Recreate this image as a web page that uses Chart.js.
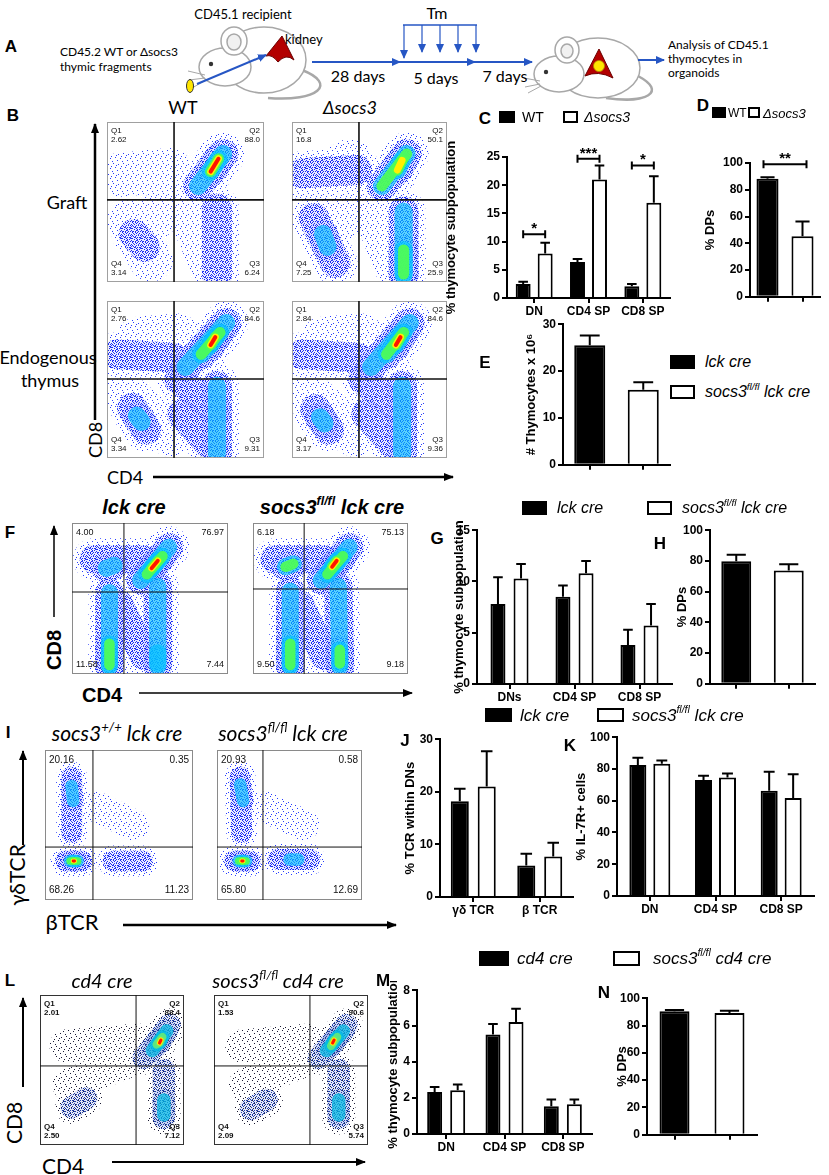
<!DOCTYPE html>
<html>
<head>
<meta charset="utf-8">
<title>socs3 thymocyte figure</title>
<script src="https://cdn.jsdelivr.net/npm/chart.js@4.4.1/dist/chart.umd.min.js"></script>
<style>
  body { margin: 0; background: #fff; }
  #fig { position: relative; width: 829px; height: 1175px; overflow: hidden; background: #fff;
         font-family: 'Liberation Sans', Arial, sans-serif; color: #000; }
  #fig canvas { position: absolute; }
  #art { position: absolute; left: 0; top: 0; pointer-events: none; }
  .t { position: absolute; white-space: nowrap; line-height: 1; transform: translate(-50%, -50%); }
  .l { position: absolute; white-space: nowrap; line-height: 1; transform: translateY(-50%); }
  .rot { transform: translate(-50%, -50%) rotate(-90deg); }
  .p { font-weight: bold; font-size: 17px; }
  .cal { font-family: Lato, 'Open Sans', sans-serif; }
  .i { font-style: italic; }
  .b { font-weight: bold; }
  .box { position: absolute; box-sizing: border-box; border: 2px solid #000; background: #fff; }
  .box.k { background: #000; }
  sup { font-size: 0.62em; line-height: 0; position: relative; top: -0.1em; }
</style>
</head>
<body>
<div id="fig">

<!-- panel A schematic and axis arrows -->
<svg id="art" width="829" height="1175" viewBox="0 0 829 1175">
  <defs>
    <marker id="ab" markerWidth="9" markerHeight="8" refX="8" refY="4" orient="auto" markerUnits="userSpaceOnUse">
      <path d="M0,0 L9,4 L0,8 z" fill="#2656c4"/>
    </marker>
    <marker id="ak" markerWidth="10" markerHeight="8" refX="9" refY="4" orient="auto" markerUnits="userSpaceOnUse">
      <path d="M0,0 L10,4 L0,8 z" fill="#000"/>
    </marker>
  </defs>
  <!-- mouse 1 -->
  <g stroke="#a8a8a8" stroke-width="1.5" fill="#fff">
    <path d="M302,70 C338,84 318,102 268,98" fill="none" stroke-width="2.5"/>
    <ellipse cx="264" cy="60" rx="42" ry="33"/>
    <ellipse cx="225" cy="67" rx="26" ry="19"/>
    <ellipse cx="234" cy="41" rx="13" ry="14"/>
    <ellipse cx="234" cy="42" rx="7" ry="8" fill="#f1f1f1"/>
    <path d="M205,75 L188,71 M205,78 L189,80 M206,80 L192,88" stroke-width="1"/>
  </g>
  <circle cx="211" cy="64" r="2.2" fill="#333"/>
  <path d="M266,56 L282,36 L294,60 Q286,53 278,62 Q272,54 266,56 Z" fill="#b30000" stroke="#6a0000"/>
  <ellipse cx="190" cy="86" rx="3.5" ry="6.5" fill="#ffe600" stroke="#333"/>
  <!-- mouse 2 -->
  <g stroke="#a8a8a8" stroke-width="1.5" fill="#fff">
    <path d="M638,76 C668,92 646,104 606,98" fill="none" stroke-width="2.5"/>
    <ellipse cx="598" cy="68" rx="42" ry="30"/>
    <ellipse cx="559" cy="74" rx="25" ry="18"/>
    <ellipse cx="567" cy="50" rx="12" ry="13"/>
    <ellipse cx="567" cy="51" rx="6" ry="7" fill="#f1f1f1"/>
    <path d="M540,81 L524,78 M540,84 L525,87 M541,86 L528,93" stroke-width="1"/>
  </g>
  <circle cx="546" cy="72" r="2.2" fill="#333"/>
  <path d="M585,76 L599,49 L613,78 Q598,70 585,76 Z" fill="#b30000" stroke="#6a0000"/>
  <circle cx="599" cy="66" r="5.5" fill="#ffe600" stroke="#b08a00" stroke-width="0.8"/>
  <g font-family="Lato, 'Open Sans', sans-serif" font-size="12" fill="#000">
    <text x="243" y="19" text-anchor="middle" font-size="13">CD45.1 recipient</text>
    <text x="60" y="56">CD45.2 WT or Δsocs3</text>
    <text x="60" y="71">thymic fragments</text>
    <text x="285" y="44" font-size="13">kidney</text>
    <text x="668" y="49">Analysis of CD45.1</text>
    <text x="668" y="63">thymocytes in</text>
    <text x="668" y="77">organoids</text>
    <text x="437" y="19" text-anchor="middle" font-size="16">Tm</text>
    <text x="358" y="82" text-anchor="middle" font-size="16">28 days</text>
    <text x="436" y="84" text-anchor="middle" font-size="16">5 days</text>
    <text x="505" y="82" text-anchor="middle" font-size="16">7 days</text>
  </g>
  <!-- blue arrows of panel A -->
  <g stroke="#2656c4" stroke-width="2" fill="none">
    <line x1="197" y1="84" x2="266" y2="55" marker-end="url(#ab)"/>
    <line x1="312" y1="62" x2="400" y2="62" marker-end="url(#ab)"/>
    <line x1="400" y1="62" x2="475" y2="62" marker-end="url(#ab)"/>
    <line x1="475" y1="62" x2="532" y2="62" marker-end="url(#ab)"/>
    <line x1="638" y1="60" x2="664" y2="60" marker-end="url(#ab)"/>
    <line x1="403" y1="25" x2="477" y2="25" stroke-width="1.5"/>
    <line x1="404" y1="25" x2="404" y2="58" stroke-width="1.2" marker-end="url(#ab)"/>
    <line x1="422" y1="25" x2="422" y2="52" stroke-width="1.2" marker-end="url(#ab)"/>
    <line x1="440" y1="25" x2="440" y2="52" stroke-width="1.2" marker-end="url(#ab)"/>
    <line x1="458" y1="25" x2="458" y2="52" stroke-width="1.2" marker-end="url(#ab)"/>
    <line x1="476" y1="25" x2="476" y2="52" stroke-width="1.2" marker-end="url(#ab)"/>
  </g>
  <!-- flow axis arrows -->
  <g stroke="#000" fill="none">
    <line x1="95" y1="420" x2="95" y2="124" stroke-width="2.5" marker-end="url(#ak)"/>
    <line x1="153" y1="477" x2="453" y2="477" stroke-width="2.5" marker-end="url(#ak)"/>
    <line x1="54" y1="617" x2="54" y2="526" stroke-width="1.5" marker-end="url(#ak)"/>
    <line x1="139" y1="693" x2="412" y2="693" stroke-width="1.5" marker-end="url(#ak)"/>
    <line x1="23" y1="845" x2="23" y2="751" stroke-width="2" marker-end="url(#ak)"/>
    <line x1="123" y1="925" x2="396" y2="925" stroke-width="2.5" marker-end="url(#ak)"/>
    <line x1="23" y1="1087" x2="23" y2="998" stroke-width="2" marker-end="url(#ak)"/>
    <line x1="112" y1="1162" x2="365" y2="1162" stroke-width="2" marker-end="url(#ak)"/>
  </g>
</svg>

<canvas id="bWtGraft"></canvas><canvas id="bKoGraft"></canvas>
<canvas id="bWtEndo"></canvas><canvas id="bKoEndo"></canvas>
<canvas id="fLck"></canvas><canvas id="fKo"></canvas>
<canvas id="iWt"></canvas><canvas id="iKo"></canvas>
<canvas id="lCd4"></canvas><canvas id="lKo"></canvas>
<canvas id="cChart"></canvas><canvas id="dChart"></canvas><canvas id="eChart"></canvas>
<canvas id="gChart"></canvas><canvas id="hChart"></canvas>
<canvas id="jChart"></canvas><canvas id="kChart"></canvas>
<canvas id="mChart"></canvas><canvas id="nChart"></canvas>

<!-- panel letters -->
<div class="t p" style="left:11px;top:46px">A</div>
<div class="t p" style="left:13px;top:115px">B</div>
<div class="t p" style="left:485px;top:118px">C</div>
<div class="t p" style="left:703px;top:105px">D</div>
<div class="t p" style="left:485px;top:362px">E</div>
<div class="t p" style="left:10px;top:532px">F</div>
<div class="t p" style="left:437px;top:538px">G</div>
<div class="t p" style="left:660px;top:543px">H</div>
<div class="t p" style="left:8px;top:732px">I</div>
<div class="t p" style="left:405px;top:740px">J</div>
<div class="t p" style="left:570px;top:745px">K</div>
<div class="t p" style="left:10px;top:980px">L</div>
<div class="t p" style="left:383px;top:980px">M</div>
<div class="t p" style="left:604px;top:992px">N</div>

<!-- B labels -->
<div class="t cal" style="left:183px;top:107px;font-size:18px">WT</div>
<div class="t cal i" style="left:350px;top:107px;font-size:18px">Δsocs3</div>
<div class="t cal" style="left:67px;top:202px;font-size:18px">Graft</div>
<div class="t cal" style="left:48px;top:357px;font-size:18px">Endogenous</div>
<div class="t cal" style="left:50px;top:380px;font-size:18px">thymus</div>
<div class="t cal rot" style="left:95px;top:440px;font-size:18px">CD8</div>
<div class="t cal" style="left:125px;top:477px;font-size:18px">CD4</div>

<!-- C / D legends -->
<div class="box k" style="left:499px;top:111px;width:16px;height:12px"></div>
<div class="l" style="left:522px;top:117px;font-size:14px">WT</div>
<div class="box" style="left:563px;top:111px;width:15px;height:12px"></div>
<div class="l i" style="left:584px;top:117px;font-size:14px">Δsocs3</div>
<div class="box k" style="left:712px;top:107px;width:14px;height:11px"></div>
<div class="l" style="left:728px;top:113px;font-size:12px">WT</div>
<div class="box" style="left:748px;top:107px;width:12px;height:11px"></div>
<div class="l i" style="left:763px;top:113px;font-size:13px">Δsocs3</div>

<!-- E legend -->
<div class="box k" style="left:670px;top:355px;width:25px;height:14px"></div>
<div class="l i" style="left:705px;top:362px;font-size:16px">lck cre</div>
<div class="box" style="left:670px;top:385px;width:25px;height:14px"></div>
<div class="l i" style="left:705px;top:392px;font-size:16px">socs3<sup>fl/fl</sup> lck cre</div>

<!-- F headers and axes -->
<div class="t b i" style="left:134px;top:507px;font-size:20px">lck cre</div>
<div class="t b i" style="left:332px;top:507px;font-size:20px">socs3<sup>fl/fl</sup> lck cre</div>
<div class="t b rot" style="left:54px;top:650px;font-size:20px">CD8</div>
<div class="t b" style="left:102px;top:695px;font-size:20px">CD4</div>

<!-- F-H legend -->
<div class="box k" style="left:522px;top:501px;width:25px;height:14px"></div>
<div class="l i" style="left:557px;top:508px;font-size:16px">lck cre</div>
<div class="box" style="left:647px;top:501px;width:25px;height:14px"></div>
<div class="l i" style="left:682px;top:508px;font-size:16px">socs3<sup>fl/fl</sup> lck cre</div>

<!-- I headers and axes -->
<div class="t cal i" style="left:117px;top:732px;font-size:21px">socs3<sup>+/+</sup> lck cre</div>
<div class="t cal i" style="left:283px;top:732px;font-size:21px">socs3<sup>fl/fl</sup> lck cre</div>
<div class="t cal rot" style="left:16px;top:875px;font-size:21px">γδTCR</div>
<div class="t cal" style="left:72px;top:922px;font-size:22px">βTCR</div>

<!-- I-K legend -->
<div class="box k" style="left:485px;top:708px;width:27px;height:14px"></div>
<div class="l i" style="left:520px;top:715px;font-size:17px">lck cre</div>
<div class="box" style="left:597px;top:708px;width:27px;height:14px"></div>
<div class="l i" style="left:632px;top:715px;font-size:17px">socs3<sup>fl/fl</sup> lck cre</div>

<!-- L headers and axes -->
<div class="t cal i" style="left:102px;top:980px;font-size:20px">cd4 cre</div>
<div class="t cal i" style="left:278px;top:980px;font-size:20px">socs3<sup>fl/fl</sup> cd4 cre</div>
<div class="t cal rot" style="left:13px;top:1123px;font-size:21px">CD8</div>
<div class="t cal" style="left:63px;top:1165px;font-size:21px">CD4</div>

<!-- L-N legend -->
<div class="box k" style="left:479px;top:951px;width:30px;height:15px"></div>
<div class="l i" style="left:517px;top:958px;font-size:17px">cd4 cre</div>
<div class="box" style="left:613px;top:951px;width:27px;height:15px"></div>
<div class="l i" style="left:653px;top:958px;font-size:17px">socs3<sup>fl/fl</sup> cd4 cre</div>

</div>

<script>
// ---- C: graft subpopulations
const cCats = ['DN', 'CD4 SP', 'CD8 SP'];
const cWt = [2.5, 6.4, 2.1];
const cWtErr = [0.4, 0.5, 0.4];
const cKo = [7.9, 21.0, 16.9];
const cKoErr = [1.9, 2.5, 4.7];
const cSigAt = [11.3, 24.7, 23.5];
const cSigMarks = ['*', '***', '*'];

// ---- D: graft % DPs (WT, Δsocs3)
const dVals = [88.2, 45.2];
const dErr = [1.2, 11.1];
const dSigAt = [99];
const dSigMarks = ['**'];

// ---- E: thymocyte numbers x 10^6 (lck cre, socs3 fl/fl lck cre)
const eVals = [25.5, 16.0];
const eErr = [2.1, 1.6];

// ---- G: subpopulations, lck cre vs socs3 fl/fl lck cre
const gCats = ['DNs', 'CD4 SP', 'CD8 SP'];
const gLck = [7.8, 8.5, 3.8];
const gLckErr = [2.6, 1.1, 1.5];
const gKo = [10.3, 10.8, 5.7];
const gKoErr = [1.4, 1.2, 2.1];

// ---- H: % DPs
const hVals = [79.8, 73.8];
const hErr = [4.2, 4.1];

// ---- J: % TCR within DNs
const jCats = ['γδ TCR', 'β TCR'];
const jLck = [18.2, 6.0];
const jLckErr = [2.4, 2.2];
const jKo = [21.0, 7.7];
const jKoErr = [6.7, 2.6];

// ---- K: % IL-7R+ cells
const kCats = ['DN', 'CD4 SP', 'CD8 SP'];
const kLck = [82.5, 73.1, 66.3];
const kLckErr = [4.6, 2.7, 12.0];
const kKo = [83.3, 74.6, 61.7];
const kKoErr = [2.1, 2.5, 15.0];

// ---- M: cd4 cre subpopulations
const mCats = ['DN', 'CD4 SP', 'CD8 SP'];
const mCd4 = [2.34, 5.54, 1.55];
const mCd4Err = [0.27, 0.58, 0.37];
const mKo = [2.43, 6.23, 1.66];
const mKoErr = [0.33, 0.74, 0.26];

// ---- N: % DPs
const nVals = [90.4, 89.2];
const nErr = [0.9, 1.6];

// ---- flow plots: quadrant percentages [top-left, top-right, bottom-left, bottom-right]
const qNames = ['Q1', 'Q2', 'Q4', 'Q3'];
const bWtGraftQ = ['2.62', '88.0', '3.14', '6.24'];
const bKoGraftQ = ['16.8', '50.1', '7.25', '25.9'];
const bWtEndoQ = ['2.76', '84.6', '3.34', '9.31'];
const bKoEndoQ = ['2.84', '84.6', '3.17', '9.36'];
const fLckQ = ['4.00', '76.97', '11.58', '7.44'];
const fKoQ = ['6.18', '75.13', '9.50', '9.18'];
const iWtQ = ['20.16', '0.35', '68.26', '11.23'];
const iKoQ = ['20.93', '0.58', '65.80', '12.69'];
const lCd4Q = ['2.01', '88.4', '2.50', '7.12'];
const lKoQ = ['1.53', '90.6', '2.09', '5.74'];

// gates [x, y] on a 0-100 display scale
const bGraftGateWt = [42.7, 51.3];
const bGraftGateKo = [43.2, 51.3];
const bEndoGateWt = [42.7, 50.3];
const bEndoGateKo = [43.2, 50.3];
const fGateLck = [33.3, 54.3];
const fGateKo = [33.0, 56.3];
const iGateWt = [32.4, 35.3];
const iGateKo = [31.7, 35.3];
const lGateCd4 = [66.7, 52.7];
const lGateKo = [62.3, 52.7];

// cell populations: [x1, y1, x2, y2, peak density 0-5]
const bWtGraftPops = [
  [8, 67, 40, 70, 0], [30, 40, 52, 58, 0], [14, 38, 28, 14, 0], [55, 38, 68, 8, 0],
  [17, 30, 24, 22, 1], [70, 46, 70, 4, 1], [58, 60, 74, 80, 2], [66, 69, 71, 77, 5]
];
const bKoGraftPops = [
  [6, 68, 42, 70, 1], [12, 62, 38, 76, 0], [30, 38, 55, 55, 0], [14, 40, 28, 12, 1],
  [20, 30, 23, 22, 2], [55, 40, 68, 8, 0], [72, 44, 72, 4, 2], [72, 20, 72, 5, 3],
  [58, 60, 74, 80, 3], [68, 70, 71, 76, 4]
];
const bWtEndoPops = [
  [6, 66, 42, 64, 1], [20, 76, 45, 78, 0], [46, 50, 70, 30, 1], [48, 28, 68, 6, 1],
  [12, 40, 40, 15, 0], [16, 32, 25, 18, 1], [19, 27, 22, 23, 2], [70, 46, 70, 3, 2],
  [50, 58, 76, 86, 2], [60, 66, 72, 80, 3], [66, 72, 69, 77, 5]
];
const bKoEndoPops = [
  [6, 66, 42, 64, 1], [20, 76, 45, 78, 0], [46, 50, 70, 30, 1], [48, 28, 68, 6, 1],
  [12, 40, 40, 15, 0], [15, 31, 24, 18, 1], [18, 26, 21, 22, 2], [71, 46, 71, 3, 2],
  [51, 58, 76, 86, 2], [61, 66, 72, 80, 3], [67, 72, 70, 77, 5]
];
const fLckPops = [
  [14, 76, 46, 76, 1], [22, 70, 27, 72, 2], [30, 46, 46, 12, 1], [24, 54, 24, 5, 2],
  [24, 20, 24, 6, 3], [55, 58, 55, 5, 2], [55, 14, 55, 7, 2], [44, 62, 62, 84, 2],
  [48, 66, 58, 78, 3], [51, 70, 55, 75, 5]
];
const fKoPops = [
  [14, 76, 46, 76, 1], [21, 71, 26, 73, 3], [30, 46, 46, 12, 1], [24, 55, 24, 5, 2],
  [24, 20, 24, 6, 3], [55, 58, 56, 5, 2], [56, 16, 56, 7, 3], [44, 62, 62, 84, 2],
  [48, 66, 58, 78, 3], [51, 71, 54, 75, 5]
];
const iWtPops = [
  [18, 82, 18, 45, 1], [18, 76, 19, 66, 2], [35, 62, 60, 50, 0], [14, 26, 25, 26, 1],
  [17, 26, 22, 26, 3], [19, 26, 20, 26, 5], [46, 26, 66, 26, 1]
];
const iKoPops = [
  [16, 82, 17, 45, 1], [16, 77, 18, 66, 2], [33, 62, 60, 50, 0], [12, 26, 23, 26, 1],
  [15, 26, 20, 26, 3], [17, 26, 18, 26, 5], [42, 27, 64, 27, 1], [50, 27, 56, 27, 2]
];
const lCd4Pops = [
  [18, 66, 68, 70, 0], [20, 40, 62, 56, 0], [22, 25, 32, 31, 1], [72, 58, 90, 80, 1],
  [78, 63, 88, 76, 2], [81, 67, 85, 72, 3], [83, 68, 84, 70, 5], [86, 50, 86, 18, 1],
  [86, 30, 86, 20, 2]
];
const lKoPops = [
  [18, 66, 62, 70, 0], [20, 40, 58, 56, 0], [24, 24, 34, 30, 1], [68, 58, 86, 80, 1],
  [73, 63, 84, 76, 2], [76, 66, 80, 72, 3], [77, 68, 78, 70, 5], [81, 50, 81, 18, 1],
  [81, 30, 81, 20, 2]
];

// dotted textures so the low-density layers look like scattered events
const sparseDots = [[1, 2], [6, 1], [3, 6], [8, 5], [0, 8], [5, 9], [9, 3], [4, 4]];
const denseDots = [[0, 0], [2, 1], [5, 0], [7, 2], [9, 1], [1, 3], [4, 2], [6, 4], [8, 4], [3, 5],
  [0, 5], [5, 6], [7, 7], [9, 6], [2, 7], [4, 8], [1, 9], [6, 9], [8, 9], [3, 3],
  [0, 7], [9, 8], [5, 3], [7, 5], [2, 5], [4, 6], [8, 0], [3, 9]];

function speckle(color, dots, bg) {
  const c = document.createElement('canvas');
  c.width = 10; c.height = 10;
  const x = c.getContext('2d');
  if (bg) { x.fillStyle = bg; x.fillRect(0, 0, 10, 10); }
  x.fillStyle = color;
  dots.forEach(p => x.fillRect(p[0], p[1], 1, 1));
  return x.createPattern(c, 'repeat');
}

// density colours, low to high
const jet = [speckle('rgb(40,60,255)', sparseDots),
             speckle('rgb(25,40,240)', denseDots, 'rgba(90,110,255,0.12)'),
             'rgba(0,195,255,0.62)', 'rgba(80,255,80,0.9)', '#fff000', '#ff1400'];
const darkJet = [speckle('rgb(25,25,50)', sparseDots),
                 speckle('rgb(30,60,170)', denseDots, 'rgba(60,90,200,0.14)'),
                 'rgba(0,190,230,0.7)', 'rgba(100,235,120,0.9)', '#ffe800', '#ff1400'];
const layerW = [44, 30, 18, 11, 7, 4];

Chart.defaults.font.family = "'Liberation Sans', Arial, sans-serif";
Chart.defaults.color = '#000';

function place(cv, x, y, w, h) {
  cv.width = w; cv.height = h;
  cv.style.left = x + 'px'; cv.style.top = y + 'px';
  cv.style.width = w + 'px'; cv.style.height = h + 'px';
}

// frame, gates and quadrant numbers of a flow plot
const flowDecor = {
  id: 'flowDecor',
  afterDraw(chart, args, o) {
    const { ctx, chartArea: a, scales } = chart;
    const gx = scales.x.getPixelForValue(o.gate[0]);
    const gy = scales.y.getPixelForValue(o.gate[1]);
    ctx.save();
    ctx.strokeStyle = o.frame; ctx.lineWidth = 1;
    ctx.strokeRect(a.left + 0.5, a.top + 0.5, a.width - 1, a.height - 1);
    ctx.strokeStyle = '#111'; ctx.lineWidth = o.gateW;
    ctx.beginPath();
    ctx.moveTo(gx, a.top); ctx.lineTo(gx, a.bottom);
    ctx.moveTo(a.left, gy); ctx.lineTo(a.right, gy);
    ctx.stroke();
    ctx.fillStyle = '#111'; ctx.font = o.font; ctx.textBaseline = 'top';
    const lh = o.size + 1;
    const pos = [[a.left + 4, a.top + 5, 'left', 1], [a.right - 4, a.top + 5, 'right', 1],
                 [a.left + 4, a.bottom - 4, 'left', 0], [a.right - 4, a.bottom - 4, 'right', 0]];
    o.quad.forEach((txt, i) => {
      const [x, y, al, isTop] = pos[i];
      const lines = o.prefix ? [o.prefix[i], txt] : [txt];
      const y0 = isTop ? y : y - lh * lines.length;
      ctx.textAlign = al;
      lines.forEach((s, k) => ctx.fillText(s, x, y0 + k * lh));
    });
    ctx.restore();
  }
};

function flowPlot(id, frame, pops, gate, quad, opt) {
  const cv = document.getElementById(id);
  place(cv, frame[0], frame[1], frame[2], frame[3]);
  const sets = [];
  for (let lv = 0; lv <= 5; lv++) {
    pops.forEach(p => {
      if (p[4] < lv) return;
      sets.push({
        data: [{ x: p[0], y: p[1] }, { x: p[2], y: p[3] }],
        showLine: true, borderColor: opt.pal[lv], borderWidth: layerW[lv] * opt.k,
        borderCapStyle: 'round', borderJoinStyle: 'round', pointRadius: 0,
        clip: 0, order: 10 - lv
      });
    });
  }
  return new Chart(cv, {
    type: 'scatter',
    data: { datasets: sets },
    options: {
      responsive: false, animation: false, events: [],
      layout: { padding: 0 },
      plugins: {
        legend: { display: false }, tooltip: { enabled: false },
        flowDecor: { gate, quad, prefix: opt.prefix, frame: opt.frame, gateW: opt.gateW, font: opt.font, size: opt.size }
      },
      scales: {
        x: { type: 'linear', min: 0, max: 100, display: false },
        y: { type: 'linear', min: 0, max: 100, display: false }
      }
    },
    plugins: [flowDecor]
  });
}

// upward error bars (Prism style, mean + SEM)
const errorBars = {
  id: 'errorBars',
  afterDatasetsDraw(chart) {
    const ctx = chart.ctx;
    const ys = chart.scales.y;
    chart.data.datasets.forEach((ds, i) => {
      if (!ds.errors) return;
      chart.getDatasetMeta(i).data.forEach((bar, j) => {
        const e = ds.errors[j];
        if (e == null || ds.data[j] == null) return;
        const yTop = ys.getPixelForValue(ds.data[j] + e);
        const half = bar.width * 0.32;
        ctx.save();
        ctx.strokeStyle = '#000'; ctx.lineWidth = 2;
        ctx.beginPath();
        ctx.moveTo(bar.x, bar.y); ctx.lineTo(bar.x, yTop);
        ctx.moveTo(bar.x - half, yTop); ctx.lineTo(bar.x + half, yTop);
        ctx.stroke();
        ctx.restore();
      });
    });
  }
};

// significance brackets with stars
const sigBrackets = {
  id: 'sigBrackets',
  afterDatasetsDraw(chart, args, o) {
    const ctx = chart.ctx;
    const ys = chart.scales.y;
    const m0 = chart.getDatasetMeta(0);
    const m1 = chart.data.datasets.length > 1 ? chart.getDatasetMeta(1) : null;
    o.at.forEach((v, i) => {
      const xa = m1 ? m0.data[i].x : m0.data[0].x - 4;
      const xb = m1 ? m1.data[i].x : m0.data[1].x + 4;
      const py = ys.getPixelForValue(v);
      ctx.save();
      ctx.strokeStyle = '#000'; ctx.lineWidth = 2;
      ctx.beginPath();
      ctx.moveTo(xa, py); ctx.lineTo(xb, py);
      ctx.moveTo(xa, py - 4); ctx.lineTo(xa, py + 4);
      ctx.moveTo(xb, py - 4); ctx.lineTo(xb, py + 4);
      ctx.stroke();
      ctx.fillStyle = '#000';
      ctx.font = "bold 15px 'Liberation Sans'";
      ctx.textAlign = 'center'; ctx.textBaseline = 'alphabetic';
      ctx.fillText(o.marks[i], (xa + xb) / 2, py - 1);
      ctx.restore();
    });
  }
};

function barChart(id, box, spec) {
  const cv = document.getElementById(id);
  const x0 = box.ax - spec.yw, y0 = box.top - spec.pt;
  place(cv, x0, y0, box.right + spec.pr - x0, box.zero + spec.xh - y0);
  const tickFont = { family: "'Liberation Sans'", weight: 'bold', size: 12 };
  return new Chart(cv, {
    type: 'bar',
    data: {
      labels: spec.labels,
      datasets: spec.sets.map(s => ({
        data: s.data, errors: s.err, backgroundColor: s.fill,
        borderColor: '#000', borderWidth: 2, borderSkipped: 'start',
        categoryPercentage: spec.cp, barPercentage: spec.bp
      }))
    },
    options: {
      responsive: false, animation: false, events: [],
      layout: { padding: { top: spec.pt, right: spec.pr, left: 0, bottom: 0 } },
      plugins: { legend: { display: false }, tooltip: { enabled: false }, sigBrackets: spec.sig || false },
      scales: {
        x: {
          grid: { drawOnChartArea: false, offset: false, tickLength: 5, color: '#000', lineWidth: 2 },
          border: { color: '#000', width: 2 },
          ticks: { color: '#000', font: tickFont, padding: 1, maxRotation: 0, autoSkip: false },
          afterFit(s) { s.height = spec.xh; }
        },
        y: {
          min: 0, max: spec.max,
          grid: { drawOnChartArea: false, tickLength: 5, color: '#000', lineWidth: 2 },
          border: { color: '#000', width: 2 },
          ticks: { stepSize: spec.step, color: '#000', font: tickFont, padding: 2 },
          title: { display: true, text: spec.title, color: '#000',
                   font: { family: "'Liberation Sans'", weight: 'bold', size: 13 }, padding: 0 },
          afterFit(s) { s.width = spec.yw; }
        }
      }
    },
    plugins: [errorBars, sigBrackets]
  });
}

// ---- flow plots
const bOpt = { pal: jet, k: 1, prefix: qNames, frame: '#a0a0a0', gateW: 1.6, font: "8px 'Liberation Sans'", size: 8 };
const fOpt = { pal: jet, k: 0.95, prefix: null, frame: '#8a8a8a', gateW: 1, font: "9px 'Liberation Sans'", size: 9 };
const iOpt = { pal: jet, k: 0.7, prefix: null, frame: '#8a8a8a', gateW: 1, font: "10px 'Liberation Sans'", size: 10 };
const lOpt = { pal: darkJet, k: 0.75, prefix: qNames, frame: '#333', gateW: 1, font: "bold 8px 'Liberation Sans'", size: 8 };

flowPlot('bWtGraft', [107, 122, 157, 160], bWtGraftPops, bGraftGateWt, bWtGraftQ, bOpt);
flowPlot('bKoGraft', [292, 122, 155, 160], bKoGraftPops, bGraftGateKo, bKoGraftQ, bOpt);
flowPlot('bWtEndo', [107, 301, 157, 157], bWtEndoPops, bEndoGateWt, bWtEndoQ, bOpt);
flowPlot('bKoEndo', [292, 301, 155, 157], bKoEndoPops, bEndoGateKo, bKoEndoQ, bOpt);
flowPlot('fLck', [72, 523, 156, 151], fLckPops, fGateLck, fLckQ, fOpt);
flowPlot('fKo', [253, 523, 155, 151], fKoPops, fGateKo, fKoQ, fOpt);
flowPlot('iWt', [45, 750, 148, 150], iWtPops, iGateWt, iWtQ, iOpt);
flowPlot('iKo', [217, 750, 145, 150], iKoPops, iGateKo, iKoQ, iOpt);
flowPlot('lCd4', [40, 995, 144, 150], lCd4Pops, lGateCd4, lCd4Q, lOpt);
flowPlot('lKo', [214, 995, 154, 150], lKoPops, lGateKo, lKoQ, lOpt);

// ---- bar charts
const BLACK = '#000', WHITE = '#fff';

barChart('cChart', { ax: 507, top: 157, right: 670, zero: 298 }, {
  labels: cCats, max: 25, step: 5, title: '% thymocyte subpopulation',
  yw: 63, pt: 20, pr: 2, xh: 22, cp: 0.81, bp: 0.68,
  sets: [{ data: cWt, err: cWtErr, fill: BLACK }, { data: cKo, err: cKoErr, fill: WHITE }],
  sig: { at: cSigAt, marks: cSigMarks }
});
barChart('dChart', { ax: 750, top: 163, right: 820, zero: 298 }, {
  labels: ['', ''], max: 100, step: 20, title: '% DPs',
  yw: 47, pt: 20, pr: 4, xh: 8, cp: 1, bp: 0.63,
  sets: [{ data: dVals, err: dErr, fill: [BLACK, WHITE] }],
  sig: { at: dSigAt, marks: dSigMarks }
});
barChart('eChart', { ax: 563, top: 323, right: 670, zero: 466 }, {
  labels: ['', ''], max: 30, step: 10, title: '# Thymocytes x 10⁶',
  yw: 39, pt: 8, pr: 2, xh: 8, cp: 1, bp: 0.58,
  sets: [{ data: eVals, err: eErr, fill: [BLACK, WHITE] }]
});
barChart('gChart', { ax: 477, top: 529, right: 672, zero: 684 }, {
  labels: gCats, max: 15, step: 5, title: '% thymocyte subpopulation',
  yw: 25, pt: 8, pr: 2, xh: 22, cp: 0.71, bp: 0.65,
  sets: [{ data: gLck, err: gLckErr, fill: BLACK }, { data: gKo, err: gKoErr, fill: WHITE }]
});
barChart('hChart', { ax: 710, top: 529, right: 815, zero: 685 }, {
  labels: ['', ''], max: 100, step: 20, title: '% DPs',
  yw: 35, pt: 8, pr: 2, xh: 8, cp: 1, bp: 0.57,
  sets: [{ data: hVals, err: hErr, fill: [BLACK, WHITE] }]
});
barChart('jChart', { ax: 440, top: 738, right: 573, zero: 897 }, {
  labels: jCats, max: 30, step: 10, title: '% TCR within DNs',
  yw: 37, pt: 8, pr: 2, xh: 22, cp: 0.81, bp: 0.67,
  sets: [{ data: jLck, err: jLckErr, fill: BLACK }, { data: jKo, err: jKoErr, fill: WHITE }]
});
barChart('kChart', { ax: 617, top: 736, right: 814, zero: 896 }, {
  labels: kCats, max: 100, step: 20, title: '% IL-7R+ cells',
  yw: 43, pt: 8, pr: 2, xh: 22, cp: 0.73, bp: 0.71,
  sets: [{ data: kLck, err: kLckErr, fill: BLACK }, { data: kKo, err: kKoErr, fill: WHITE }]
});
barChart('mChart', { ax: 417, top: 989, right: 592, zero: 1134 }, {
  labels: mCats, max: 8, step: 2, title: '% thymocyte subpopulation',
  yw: 31, pt: 8, pr: 2, xh: 22, cp: 0.79, bp: 0.65,
  sets: [{ data: mCd4, err: mCd4Err, fill: BLACK }, { data: mKo, err: mKoErr, fill: WHITE }]
});
barChart('nChart', { ax: 647, top: 997, right: 757, zero: 1136 }, {
  labels: ['', ''], max: 100, step: 20, title: '% DPs',
  yw: 32, pt: 8, pr: 2, xh: 8, cp: 1, bp: 0.545,
  sets: [{ data: nVals, err: nErr, fill: [BLACK, WHITE] }]
});
</script>
</body>
</html>
